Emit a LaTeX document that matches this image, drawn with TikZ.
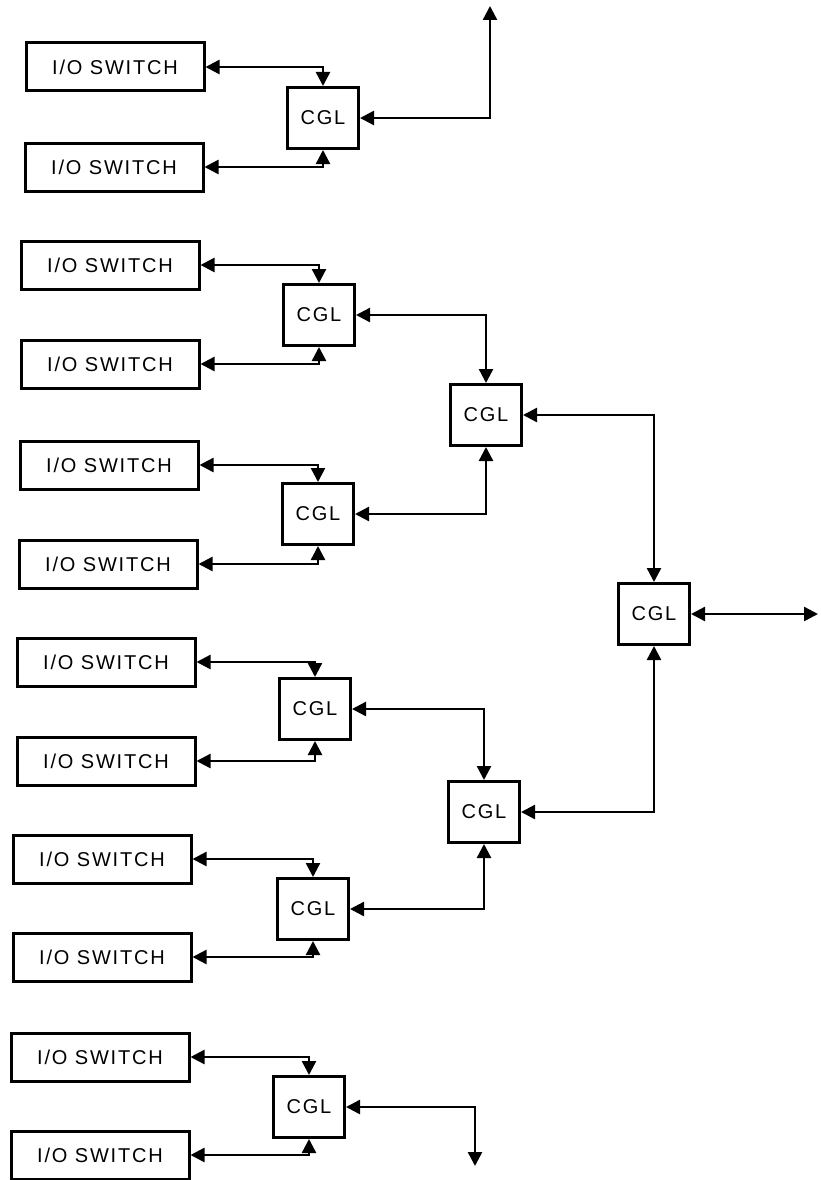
\documentclass[tikz,border=0pt]{standalone}
\usepackage{fontspec}
\setmainfont{Liberation Sans}[LetterSpace=9]
\usepackage{tikz}
\usetikzlibrary{arrows.meta, positioning, calc}
\tikzset{
	% switch and logic blocks
	iosw/.style ={rectangle, draw=black, line width=3pt, minimum width=178pt, minimum height=48pt, align=center, fill=white},
	cgl/.style  ={rectangle, draw=black, line width=3pt, minimum width=71pt, minimum height=61pt, align=center, fill=white},
	link/.style ={{Triangle[length=14pt,width=14pt]}-{Triangle[length=14pt,width=14pt]}, line width=2.4pt},
}
\begin{document}
\begin{tikzpicture}[x=1pt, y=-1pt, every node/.style={font=\fontsize{20}{23}\selectfont}]
	\useasboundingbox (0,0) rectangle (820,1180);
	\node[iosw] (sw1) at (115,67) {I/O SWITCH};
	\node[iosw] (sw2) at (114,167) {I/O SWITCH};
	\node[iosw] (sw3) at (110,265) {I/O SWITCH};
	\node[iosw] (sw4) at (110,364) {I/O SWITCH};
	\node[iosw] (sw5) at (109,465) {I/O SWITCH};
	\node[iosw] (sw6) at (108,564) {I/O SWITCH};
	\node[iosw] (sw7) at (106,662) {I/O SWITCH};
	\node[iosw] (sw8) at (106,761) {I/O SWITCH};
	\node[iosw] (sw9) at (102,859) {I/O SWITCH};
	\node[iosw] (sw10) at (102,957) {I/O SWITCH};
	\node[iosw] (sw11) at (100,1057) {I/O SWITCH};
	\node[iosw] (sw12) at (100,1155) {I/O SWITCH};
	\node[cgl] (cgl1) at (323,118) {CGL};
	\node[cgl] (cgl2) at (319,315) {CGL};
	\node[cgl] (cgl3) at (318,514) {CGL};
	\node[cgl] (cgl4) at (315,709) {CGL};
	\node[cgl] (cgl5) at (313,909) {CGL};
	\node[cgl] (cgl6) at (309,1107) {CGL};
	\node[cgl] (cglA) at (486,415) {CGL};
	\node[cgl] (cglB) at (484,812) {CGL};
	\node[cgl] (cglC) at (654,614) {CGL};
	\coordinate (outTop) at (490,6);
	\coordinate (outRight) at (818,614);
	\coordinate (outBot) at (475,1166);
	\draw[link] (sw1.east) -| (cgl1.north);
	\draw[link] (sw2.east) -| (cgl1.south);
	\draw[link] (sw3.east) -| (cgl2.north);
	\draw[link] (sw4.east) -| (cgl2.south);
	\draw[link] (sw5.east) -| (cgl3.north);
	\draw[link] (sw6.east) -| (cgl3.south);
	\draw[link] (sw7.east) -| (cgl4.north);
	\draw[link] (sw8.east) -| (cgl4.south);
	\draw[link] (sw9.east) -| (cgl5.north);
	\draw[link] (sw10.east) -| (cgl5.south);
	\draw[link] (sw11.east) -| (cgl6.north);
	\draw[link] (sw12.east) -| (cgl6.south);
	\draw[link] (cgl2.east) -| (cglA.north);
	\draw[link] (cgl3.east) -| (cglA.south);
	\draw[link] (cgl4.east) -| (cglB.north);
	\draw[link] (cgl5.east) -| (cglB.south);
	\draw[link] (cglA.east) -| (cglC.north);
	\draw[link] (cglB.east) -| (cglC.south);
	\draw[link] (cglC.east) -- (outRight);
	\draw[link] (cgl1.east) -| (outTop);
	\draw[link] (cgl6.east) -| (outBot);
\end{tikzpicture}
\end{document}
